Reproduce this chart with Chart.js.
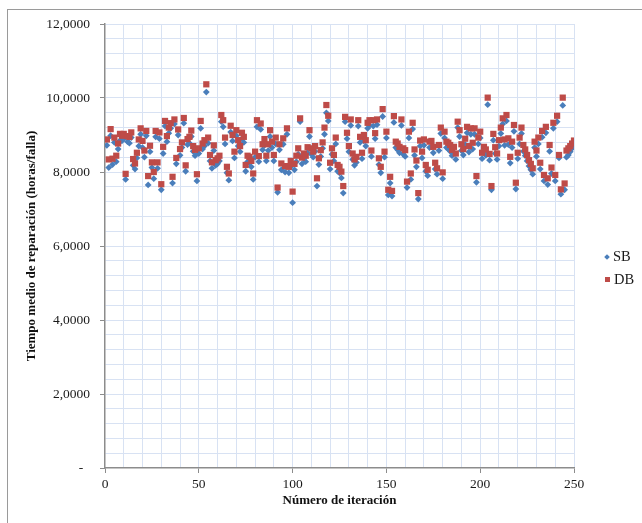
<!DOCTYPE html>
<html lang="es">
<head>
<meta charset="utf-8">
<title>Tiempo medio de reparación</title>
<script src="https://cdn.jsdelivr.net/npm/chart.js@4.4.0/dist/chart.umd.min.js"></script>
<style>
    html, body { margin: 0; padding: 0; background: #fff; }
    #wrap { position: relative; width: 642px; height: 523px; overflow: hidden; }
    #marco { position: absolute; left: 7px; top: 9px; right: -5px; bottom: -5px;
             border-left: 1px solid #9a9a9a; border-top: 1px solid #9a9a9a; pointer-events: none; }
    #leyenda { position: absolute; left: 605px; top: 246px; font: 14.5px 'Liberation Serif', 'Times New Roman', serif; color: #1a1a1a; }
    #leyenda .item { height: 23px; line-height: 20px; white-space: nowrap; }
    #leyenda .mk { display: inline-block; width: 5px; height: 5px; margin-right: 4px; vertical-align: 2px; }
    #leyenda .sb { background: #4a7ebb; transform: rotate(45deg); width: 4px; height: 4px; }
    #leyenda .db { background: #be4b48; }
</style>
</head>
<body>
<div id="wrap">
    <canvas id="grafico" width="642" height="523"></canvas>
    <div id="marco"></div>
    <div id="leyenda">
        <div class="item"><span class="mk sb"></span>SB</div>
        <div class="item"><span class="mk db"></span>DB</div>
    </div>
</div>
<script>
// Series (una por iteración, 1..250)
const series = ['SB', 'DB'];

const valoresSB = [
    8.72, 8.12, 8.98, 8.20, 8.80, 8.28, 8.62, 8.85, 8.84, 8.90,
    7.80, 8.82, 8.78, 8.93, 8.18, 8.08, 8.38, 8.70, 9.02, 8.66,
    8.40, 8.98, 7.65, 8.55, 8.12, 7.82, 8.95, 8.10, 8.90, 7.52,
    8.50, 9.24, 8.82, 9.05, 9.18, 7.70, 9.30, 8.22, 9.00, 8.45,
    8.66, 9.32, 8.02, 8.74, 8.78, 8.96, 8.56, 8.44, 7.76, 8.50,
    9.18, 8.62, 8.70, 10.16, 8.78, 8.30, 8.10, 8.58, 8.18, 8.22,
    8.30, 9.36, 9.22, 8.76, 7.98, 7.78, 9.08, 8.84, 8.38, 8.98,
    8.70, 8.55, 8.90, 8.80, 8.02, 8.28, 8.25, 8.14, 7.80, 8.40,
    9.22, 8.28, 9.15, 8.60, 8.72, 8.30, 8.58, 8.96, 8.66, 8.30,
    8.76, 7.45, 8.60, 8.06, 8.75, 8.00, 9.02, 7.98, 8.14, 7.17,
    8.06, 8.28, 8.48, 9.36, 8.22, 8.36, 8.28, 8.52, 8.96, 8.48,
    8.40, 8.56, 7.62, 8.20, 8.42, 8.64, 9.02, 9.60, 9.38, 8.08,
    8.48, 8.30, 8.76, 8.02, 7.98, 7.84, 7.43, 9.36, 8.90, 8.55,
    9.26, 8.34, 8.18, 8.26, 9.24, 8.80, 8.36, 8.84, 8.70, 9.18,
    9.26, 8.42, 9.24, 8.90, 9.28, 8.20, 7.98, 9.50, 8.40, 8.92,
    7.38, 7.70, 7.35, 9.34, 8.66, 8.60, 8.52, 9.26, 8.48, 8.42,
    7.58, 8.92, 7.80, 9.16, 8.45, 8.14, 7.27, 8.70, 8.38, 8.72,
    8.02, 7.90, 8.66, 8.68, 8.52, 8.08, 7.94, 8.58, 9.04, 7.82,
    8.92, 8.66, 8.62, 8.56, 8.44, 8.52, 8.34, 9.20, 8.96, 8.58,
    8.46, 8.74, 9.06, 8.54, 9.02, 8.62, 9.02, 7.72, 8.76, 8.92,
    8.36, 8.52, 8.45, 9.82, 8.32, 7.52, 8.86, 8.50, 8.34, 8.70,
    9.04, 9.30, 8.72, 9.38, 8.74, 8.24, 8.66, 9.10, 7.54, 8.36,
    8.76, 9.04, 8.56, 8.44, 8.30, 8.16, 8.06, 7.94, 8.66, 8.42,
    8.76, 8.08, 8.94, 7.76, 9.06, 7.66, 8.56, 7.96, 9.18, 7.76,
    9.36, 8.38, 7.40, 9.80, 7.52, 8.40, 8.46, 8.55, 8.64, 8.72
];

const valoresDB = [
    8.88, 8.34, 9.16, 8.36, 8.93, 8.44, 8.77, 9.03, 8.98, 9.03,
    7.95, 8.97, 8.95, 9.07, 8.35, 8.23, 8.52, 8.88, 9.18, 8.84,
    8.58, 9.11, 7.89, 8.71, 8.26, 8.00, 9.11, 8.26, 9.07, 7.67,
    8.68, 9.38, 8.97, 9.20, 9.32, 7.87, 9.42, 8.38, 9.15, 8.62,
    8.80, 9.46, 8.18, 8.89, 8.95, 9.12, 8.70, 8.60, 7.94, 8.64,
    9.38, 8.77, 8.86, 10.37, 8.93, 8.46, 8.26, 8.72, 8.32, 8.37,
    8.44, 9.54, 9.40, 8.93, 8.14, 7.96, 9.25, 9.00, 8.55, 9.13,
    8.86, 8.70, 9.06, 8.95, 8.19, 8.44, 8.41, 8.30, 7.96, 8.55,
    9.40, 8.43, 9.31, 8.75, 8.89, 8.44, 8.75, 9.13, 8.82, 8.46,
    8.93, 7.58, 8.75, 8.23, 8.91, 8.16, 9.18, 8.14, 8.30, 7.47,
    8.22, 8.44, 8.64, 9.45, 8.39, 8.50, 8.44, 8.67, 9.13, 8.64,
    8.55, 8.70, 7.83, 8.37, 8.59, 8.80, 9.20, 9.81, 9.52, 8.25,
    8.64, 8.46, 8.93, 8.19, 8.14, 8.01, 7.62, 9.49, 9.06, 8.70,
    9.42, 8.50, 8.34, 8.41, 9.40, 8.95, 8.52, 9.00, 8.86, 9.33,
    9.40, 8.58, 9.40, 9.05, 9.42, 8.37, 8.14, 9.70, 8.55, 9.09,
    7.52, 7.87, 7.49, 9.51, 8.82, 8.77, 8.68, 9.42, 8.64, 8.59,
    7.74, 9.09, 7.96, 9.33, 8.61, 8.31, 7.43, 8.85, 8.55, 8.88,
    8.19, 8.06, 8.82, 8.84, 8.68, 8.25, 8.10, 8.73, 9.20, 7.99,
    9.09, 8.82, 8.79, 8.73, 8.60, 8.68, 8.50, 9.36, 9.13, 8.75,
    8.62, 8.90, 9.22, 8.70, 9.18, 8.79, 9.18, 7.89, 8.93, 9.09,
    8.52, 8.68, 8.61, 10.01, 8.49, 7.62, 9.03, 8.67, 8.50, 8.86,
    9.20, 9.45, 8.88, 9.54, 8.91, 8.41, 8.82, 9.27, 7.71, 8.52,
    8.93, 9.20, 8.73, 8.61, 8.46, 8.32, 8.22, 8.10, 8.82, 8.58,
    8.93, 8.25, 9.11, 7.92, 9.22, 7.83, 8.73, 8.12, 9.33, 7.92,
    9.52, 8.46, 7.53, 10.01, 7.69, 8.58, 8.64, 8.70, 8.77, 8.85
];

// Ejes
const ticksX = [0, 50, 100, 150, 200, 250];
const ticksY = [0, 2, 4, 6, 8, 10, 12];
const tituloX = 'Número de iteración';
const tituloY = 'Tiempo medio de reparación (horas/falla)';

document.addEventListener("DOMContentLoaded", function() {
    const gris = '#8c8c8c';
    const rejilla = '#d8e2f3';
    const cerca = (v, lista) => lista.some(t => Math.abs(t - v) < 1e-6);

    Chart.defaults.font.family = "'Liberation Serif', 'Times New Roman', serif";
    Chart.defaults.color = '#1a1a1a';

    // pares (iteración, valor)
    const puntos = vals => vals.map((v, k) => ({ x: k + 1, y: v }));

    const config = {
        type: 'scatter',
        data: {
            datasets: [{
                label: series[0],
                data: puntos(valoresSB),
                pointStyle: 'rectRot',
                pointRadius: 3.4,
                backgroundColor: '#4a7ebb',
                borderColor: '#4a7ebb',
                borderWidth: 0,
                order: 1
            }, {
                label: series[1],
                data: puntos(valoresDB),
                pointStyle: 'rect',
                pointRadius: 4.4,
                backgroundColor: '#be4b48',
                borderColor: '#be4b48',
                borderWidth: 0,
                order: 0
            }]
        },
        options: {
            responsive: false,
            animation: false,
            layout: { padding: { left: 0, top: 24, right: 68, bottom: 0 } },
            plugins: { legend: { display: false }, tooltip: { enabled: false } },
            scales: {
                x: {
                    type: 'linear',
                    min: 0,
                    max: 250,
                    afterFit: s => { s.height = 55; },
                    ticks: {
                        stepSize: 10,
                        autoSkip: false,
                        maxRotation: 0,
                        padding: 3,
                        font: { size: 13.5 },
                        callback: v => cerca(v, ticksX) ? String(v) : ''
                    },
                    grid: {
                        color: c => c.tick && c.tick.value === 0 ? 'rgba(0,0,0,0)' : rejilla,
                        tickColor: c => c.tick && cerca(c.tick.value, ticksX) ? gris : 'rgba(0,0,0,0)',
                        tickLength: 5
                    },
                    border: { color: gris, width: 1.5 },
                    title: {
                        display: true,
                        text: tituloX,
                        font: { size: 13, weight: 'bold' },
                        color: '#111',
                        padding: { top: 0, bottom: 15 }
                    }
                },
                y: {
                    min: 0,
                    max: 12,
                    afterFit: s => { s.width = 105; },
                    ticks: {
                        stepSize: 0.4,
                        autoSkip: false,
                        padding: 10,
                        font: { size: 13.5 },
                        callback: v => {
                            if (!cerca(v, ticksY)) return '';
                            if (Math.abs(v) < 1e-6) return '-  ';
                            return Math.round(v).toFixed(4).replace('.', ',');
                        }
                    },
                    grid: {
                        color: c => c.tick && Math.abs(c.tick.value) < 1e-6 ? 'rgba(0,0,0,0)' : rejilla,
                        tickColor: c => c.tick && cerca(c.tick.value, ticksY) ? gris : 'rgba(0,0,0,0)',
                        tickLength: 5
                    },
                    border: { color: gris, width: 1.5 },
                    title: {
                        display: true,
                        text: tituloY,
                        font: { size: 13, weight: 'bold' },
                        color: '#111',
                        padding: { top: 24, bottom: 0 }
                    }
                }
            }
        }
    };

    new Chart(document.getElementById('grafico'), config);
});
</script>
</body>
</html>
